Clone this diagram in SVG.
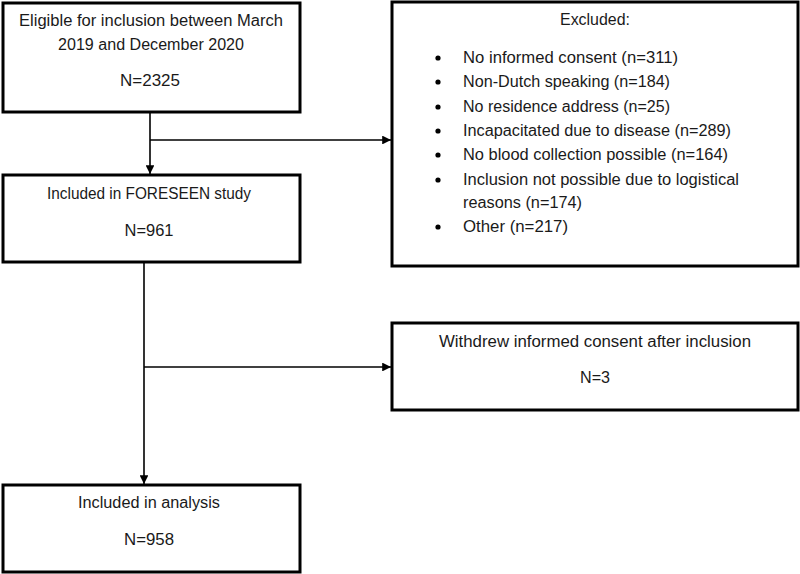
<svg xmlns="http://www.w3.org/2000/svg" width="800" height="574" viewBox="0 0 800 574">
<style>
.box{fill:#fff;stroke:#000;stroke-width:3}
.t{font-family:"Liberation Sans",Arial,sans-serif;font-size:16px;fill:#1a1a1a}
.c{text-anchor:middle}
.ln{stroke:#000;stroke-width:1.6;fill:none}
</style>
<defs>
<marker id="ah" viewBox="0 0 10 10" refX="10" refY="5" markerWidth="5.5" markerHeight="5.5" orient="auto" markerUnits="strokeWidth">
<path d="M0,0 L10,5 L0,10 z" fill="#000"/>
</marker>
</defs>
<rect width="800" height="574" fill="#fff"/>
<g id="connectors">
<line class="ln" x1="150" y1="112" x2="150" y2="174" marker-end="url(#ah)"/>
<line class="ln" x1="150" y1="140" x2="391" y2="140" marker-end="url(#ah)"/>
<line class="ln" x1="144" y1="262" x2="144" y2="484" marker-end="url(#ah)"/>
<line class="ln" x1="144" y1="367" x2="391" y2="367" marker-end="url(#ah)"/>
</g>
<g id="eligible">
<rect class="box" x="3" y="3" width="297" height="109"/>
<text class="t c" x="151" y="26" textLength="264" lengthAdjust="spacingAndGlyphs">Eligible for inclusion between March</text>
<text class="t c" x="151" y="50" textLength="186" lengthAdjust="spacingAndGlyphs">2019 and December 2020</text>
<text class="t c" x="150" y="86" textLength="60" lengthAdjust="spacingAndGlyphs">N=2325</text>
</g>
<g id="included">
<rect class="box" x="3" y="175" width="297" height="87"/>
<text class="t c" x="149" y="199" textLength="204" lengthAdjust="spacingAndGlyphs">Included in FORESEEN study</text>
<text class="t c" x="149" y="236" textLength="49" lengthAdjust="spacingAndGlyphs">N=961</text>
</g>
<g id="excluded">
<rect class="box" x="392" y="2" width="406" height="264"/>
<text class="t c" x="595" y="25" textLength="70" lengthAdjust="spacingAndGlyphs">Excluded:</text>
<g class="t">
<circle cx="438" cy="58" r="2.6" fill="#000"/><text x="463" y="63" textLength="215" lengthAdjust="spacingAndGlyphs">No informed consent (n=311)</text>
<circle cx="438" cy="82" r="2.6" fill="#000"/><text x="463" y="87" textLength="207" lengthAdjust="spacingAndGlyphs">Non-Dutch speaking (n=184)</text>
<circle cx="438" cy="107" r="2.6" fill="#000"/><text x="463" y="112" textLength="207" lengthAdjust="spacingAndGlyphs">No residence address (n=25)</text>
<circle cx="438" cy="131" r="2.6" fill="#000"/><text x="463" y="136" textLength="268" lengthAdjust="spacingAndGlyphs">Incapacitated due to disease (n=289)</text>
<circle cx="438" cy="155" r="2.6" fill="#000"/><text x="463" y="160" textLength="265" lengthAdjust="spacingAndGlyphs">No blood collection possible (n=164)</text>
<circle cx="438" cy="180" r="2.6" fill="#000"/><text x="463" y="185" textLength="276" lengthAdjust="spacingAndGlyphs">Inclusion not possible due to logistical</text>
<text x="463" y="208" textLength="119" lengthAdjust="spacingAndGlyphs">reasons (n=174)</text>
<circle cx="438" cy="227" r="2.6" fill="#000"/><text x="463" y="232" textLength="105" lengthAdjust="spacingAndGlyphs">Other (n=217)</text>
</g>
</g>
<g id="withdrew">
<rect class="box" x="392" y="323" width="406" height="87"/>
<text class="t c" x="595" y="347" textLength="312" lengthAdjust="spacingAndGlyphs">Withdrew informed consent after inclusion</text>
<text class="t c" x="595" y="383" textLength="30" lengthAdjust="spacingAndGlyphs">N=3</text>
</g>
<g id="analysis">
<rect class="box" x="3" y="485" width="297" height="87"/>
<text class="t c" x="149" y="508" textLength="142" lengthAdjust="spacingAndGlyphs">Included in analysis</text>
<text class="t c" x="149" y="545" textLength="50" lengthAdjust="spacingAndGlyphs">N=958</text>
</g>
</svg>
